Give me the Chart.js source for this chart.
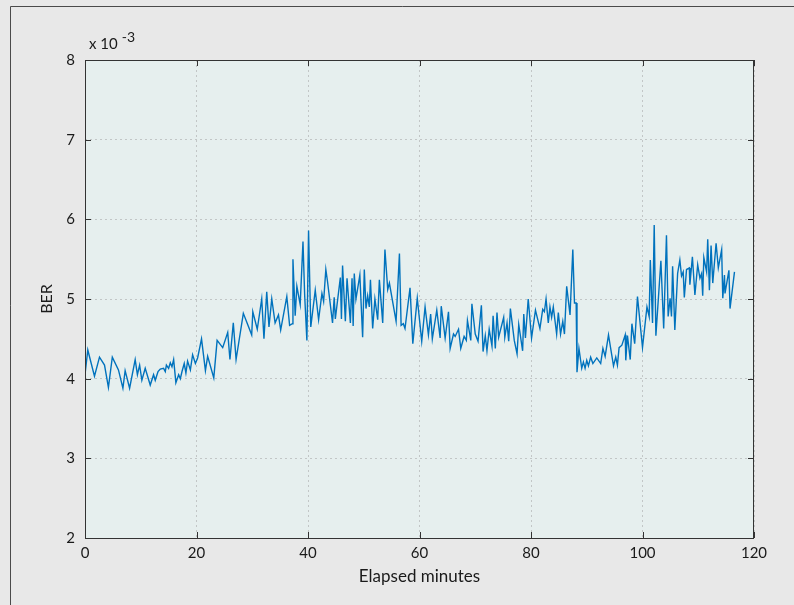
<!DOCTYPE html>
<html>
<head>
<meta charset="utf-8">
<script src="https://cdn.jsdelivr.net/npm/chart.js@4.4.1/dist/chart.umd.min.js"></script>
<style>
  html, body { margin: 0; padding: 0; background: #e8e8e8; }
  canvas { display: block; }
</style>
</head>
<body>
<canvas id="berChart" width="794" height="605"></canvas>
<script>
// sample times (minutes) and BER readings (in units of 1e-3)
const minutes = [
  0, 0.5, 1.7, 2.6, 3.5, 4.2, 4.9, 6.0, 6.8, 7.2,
  8.0, 9.0, 9.4, 9.8, 10.2, 10.8, 11.7, 12.3, 12.6, 13.1,
  13.5, 14.1, 14.4, 14.6, 15.0, 15.3, 15.6, 15.9, 16.3, 16.8,
  17.1, 17.4, 17.8, 18.1, 18.4, 18.9, 19.3, 19.8, 20.2, 20.9,
  21.6, 22.0, 23.1, 23.7, 24.7, 25.6, 26.0, 26.6, 27.1, 28.4,
  29.9, 30.1, 30.9, 31.7, 32.1, 32.6, 33.0, 33.5, 34.1, 34.7,
  35.1, 36.2, 36.7, 37.2, 37.3, 37.7, 38.0, 38.6, 39.1, 39.4,
  39.8, 40.1, 40.5, 41.3, 41.9, 42.5, 42.8, 43.2, 43.5, 44.4,
  44.7, 44.9, 45.8, 46.0, 46.2, 46.7, 47.0, 47.6, 47.9, 48.1,
  48.3, 48.6, 49.3, 49.8, 50.1, 50.4, 50.7, 51.0, 51.2, 51.6,
  52.0, 52.5, 52.8, 53.4, 53.8, 54.3, 54.6, 55.8, 56.4, 56.7,
  57.1, 57.4, 58.3, 58.8, 59.6, 60.4, 61.0, 61.6, 62.0, 62.3,
  63.1, 63.7, 63.9, 64.6, 65.2, 65.5, 66.1, 66.4, 67.0, 67.4,
  68.0, 68.4, 68.6, 69.2, 69.4, 70.0, 70.5, 71.1, 71.4, 71.8,
  72.1, 72.5, 73.0, 73.2, 73.6, 73.9, 74.2, 75.1, 75.3, 75.7,
  76.0, 76.3, 77.0, 77.5, 77.8, 78.5, 78.7, 79.0, 79.5, 80.1,
  80.8, 81.6, 82.1, 82.4, 82.7, 83.1, 83.4, 83.7, 84.0, 84.6,
  84.9, 85.3, 85.7, 86.0, 86.4, 87.0, 87.5, 87.8, 88.1, 88.25,
  88.6, 89.1, 89.4, 89.7, 90.0, 90.3, 90.7, 91.1, 91.8, 92.5,
  92.9, 93.3, 93.9, 94.8, 95.2, 95.5, 95.8, 96.3, 96.9, 97.0,
  97.3, 97.8, 98.1, 98.6, 99.1, 100.0, 100.8, 101.2, 101.4, 101.8,
  102.1, 102.4, 103.3, 103.8, 104.3, 104.6, 104.95, 105.2, 105.4, 105.8,
  106.3, 106.7, 107.0, 107.3, 107.5, 107.9, 108.4, 108.5, 108.95, 109.4,
  109.9, 110.3, 110.6, 110.8, 111.0, 111.5, 111.7, 112.0, 112.3, 112.6,
  113.2, 113.6, 114.2, 114.4, 114.7, 114.8, 115.5, 115.7, 116.5
];
const berValues = [
  4.05, 4.36, 4.03, 4.27, 4.17, 3.89, 4.27, 4.11, 3.88, 4.10,
  3.88, 4.24, 4.05, 4.17, 3.98, 4.13, 3.92, 4.05, 3.98, 4.09,
  4.12, 4.13, 4.09, 4.17, 4.13, 4.20, 4.15, 4.24, 3.95, 4.05,
  4.00, 4.09, 4.19, 4.07, 4.22, 4.11, 4.30, 4.19, 4.26, 4.50,
  4.10, 4.28, 4.01, 4.48, 4.39, 4.58, 4.24, 4.70, 4.24, 4.82,
  4.55, 4.84, 4.62, 5.00, 4.50, 5.09, 4.65, 5.00, 4.70, 4.80,
  4.61, 5.03, 4.67, 4.69, 5.50, 4.79, 5.16, 4.93, 5.72, 5.05,
  4.48, 5.86, 4.65, 5.11, 4.74, 5.07, 4.97, 5.37, 5.22, 4.70,
  5.02, 4.75, 5.27, 4.75, 5.42, 4.72, 5.26, 4.70, 5.26, 4.66,
  5.32, 5.00, 5.30, 4.52, 5.37, 4.88, 5.04, 4.90, 5.24, 4.63,
  5.00, 4.74, 5.24, 4.70, 5.62, 5.12, 5.20, 4.72, 5.57, 4.67,
  4.69, 4.63, 5.14, 4.44, 5.01, 4.47, 4.90, 4.55, 4.81, 4.50,
  4.86, 4.51, 4.91, 4.51, 4.84, 4.38, 4.56, 4.53, 4.62, 4.38,
  4.53, 4.48, 4.73, 4.48, 4.94, 4.56, 4.47, 4.92, 4.34, 4.54,
  4.35, 4.62, 4.41, 4.79, 4.38, 4.83, 4.52, 4.77, 4.52, 4.70,
  4.47, 4.88, 4.48, 4.31, 4.68, 4.35, 4.81, 4.51, 5.00, 4.51,
  4.86, 4.63, 4.87, 4.84, 5.00, 4.70, 4.90, 4.77, 4.90, 4.56,
  4.83, 4.56, 4.72, 4.56, 5.16, 4.80, 5.62, 4.95, 4.95, 4.08,
  4.38, 4.13, 4.21, 4.13, 4.23, 4.16, 4.27, 4.19, 4.26, 4.19,
  4.38, 4.28, 4.55, 4.16, 4.27, 4.17, 4.39, 4.42, 4.55, 4.23,
  4.54, 4.24, 4.69, 4.44, 5.03, 4.39, 4.90, 4.78, 5.49, 4.70,
  5.93, 4.54, 5.48, 4.63, 5.80, 4.78, 5.01, 4.78, 5.41, 4.61,
  5.32, 5.49, 5.29, 5.34, 5.02, 5.37, 5.39, 5.18, 5.53, 5.05,
  5.43, 5.26, 5.32, 5.04, 5.52, 5.34, 5.75, 5.11, 5.67, 5.20,
  5.70, 5.39, 5.62, 5.01, 5.30, 5.07, 5.36, 4.88, 5.34
];
const xTicks = [0, 20, 40, 60, 80, 100, 120];
const yTicks = [2, 3, 4, 5, 6, 7, 8];
const xTitle = "Elapsed minutes";
const yTitle = "BER";
const exponentText = "-3";

const FONT = "Lato, 'Open Sans', sans-serif";
const TEXT_COLOR = "#1a1a1a";

// grey figure background, frame lines and plot area fill
const backdrop = {
  id: "backdrop",
  beforeDraw(chart) {
    const { ctx, chartArea: a, width, height } = chart;
    ctx.save();
    ctx.fillStyle = "#e8e8e8";
    ctx.fillRect(0, 0, width, height);
    ctx.strokeStyle = "#4a4a4a";
    ctx.lineWidth = 1;
    ctx.beginPath();
    ctx.moveTo(10.5, height);
    ctx.lineTo(10.5, 6.5);
    ctx.lineTo(width, 6.5);
    ctx.stroke();
    ctx.fillStyle = "#e6efee";
    ctx.fillRect(a.left, a.top, a.right - a.left, a.bottom - a.top);
    ctx.restore();
  }
};

// box around the axes, inward tick marks, exponent label
const axesBox = {
  id: "axesBox",
  afterDraw(chart) {
    const { ctx, chartArea: a } = chart;
    const xs = chart.scales.x, ys = chart.scales.y;
    const len = 6;
    ctx.save();
    ctx.strokeStyle = "#333";
    ctx.lineWidth = 1;
    ctx.strokeRect(a.left + 0.5, a.top + 0.5, a.right - a.left - 1, a.bottom - a.top);
    ctx.beginPath();
    xs.ticks.forEach(t => {
      const px = Math.round(xs.getPixelForValue(t.value)) + 0.5;
      ctx.moveTo(px, a.bottom); ctx.lineTo(px, a.bottom - len);
      ctx.moveTo(px, a.top); ctx.lineTo(px, a.top + len);
    });
    ys.ticks.forEach(t => {
      const py = Math.round(ys.getPixelForValue(t.value)) + 0.5;
      ctx.moveTo(a.left, py); ctx.lineTo(a.left + len, py);
      ctx.moveTo(a.right, py); ctx.lineTo(a.right - len, py);
    });
    ctx.stroke();

    ctx.fillStyle = TEXT_COLOR;
    ctx.textBaseline = "alphabetic";
    ctx.textAlign = "left";
    ctx.font = "15px " + FONT;
    const base = "x 10";
    ctx.fillText(base, a.left + 4, a.top - 11);
    const w = ctx.measureText(base).width;
    ctx.font = "14px " + FONT;
    ctx.fillText(exponentText, a.left + 4 + w + 4, a.top - 18);
    ctx.restore();
  }
};

const ctx = document.getElementById("berChart").getContext("2d");
new Chart(ctx, {
  type: "line",
  data: {
    datasets: [{
      label: yTitle,
      data: minutes.map((m, i) => ({ x: m, y: berValues[i] })),
      borderColor: "#0072bd",
      borderWidth: 1.4,
      pointRadius: 0,
      tension: 0,
      fill: false
    }]
  },
  plugins: [backdrop, axesBox],
  options: {
    responsive: false,
    animation: false,
    layout: { padding: { left: 0, top: 60, right: 40, bottom: 0 } },
    plugins: {
      legend: { display: false },
      tooltip: { enabled: false }
    },
    scales: {
      x: {
        type: "linear",
        min: 0,
        max: 120,
        afterBuildTicks: axis => { axis.ticks = xTicks.map(v => ({ value: v })); },
        afterFit: axis => { axis.height = 67; },
        grid: { color: "#c2c6c6", lineWidth: 1, drawTicks: false },
        border: { display: false, dash: [2, 3] },
        ticks: { color: TEXT_COLOR, font: { family: FONT, size: 15 }, padding: 6, maxRotation: 0 },
        title: {
          display: true, text: xTitle, color: TEXT_COLOR,
          font: { family: FONT, size: 17 }, padding: { top: 4, bottom: 18 }
        }
      },
      y: {
        type: "linear",
        min: 2,
        max: 8,
        afterBuildTicks: axis => { axis.ticks = yTicks.map(v => ({ value: v })); },
        afterFit: axis => { axis.width = 85; },
        grid: { color: "#c2c6c6", lineWidth: 1, drawTicks: false },
        border: { display: false, dash: [2, 3] },
        ticks: { color: TEXT_COLOR, font: { family: FONT, size: 15 }, padding: 10 },
        title: {
          display: true, text: yTitle, color: TEXT_COLOR,
          font: { family: FONT, size: 16 }, padding: { top: 37, bottom: 0 }
        }
      }
    }
  }
});
</script>
</body>
</html>
